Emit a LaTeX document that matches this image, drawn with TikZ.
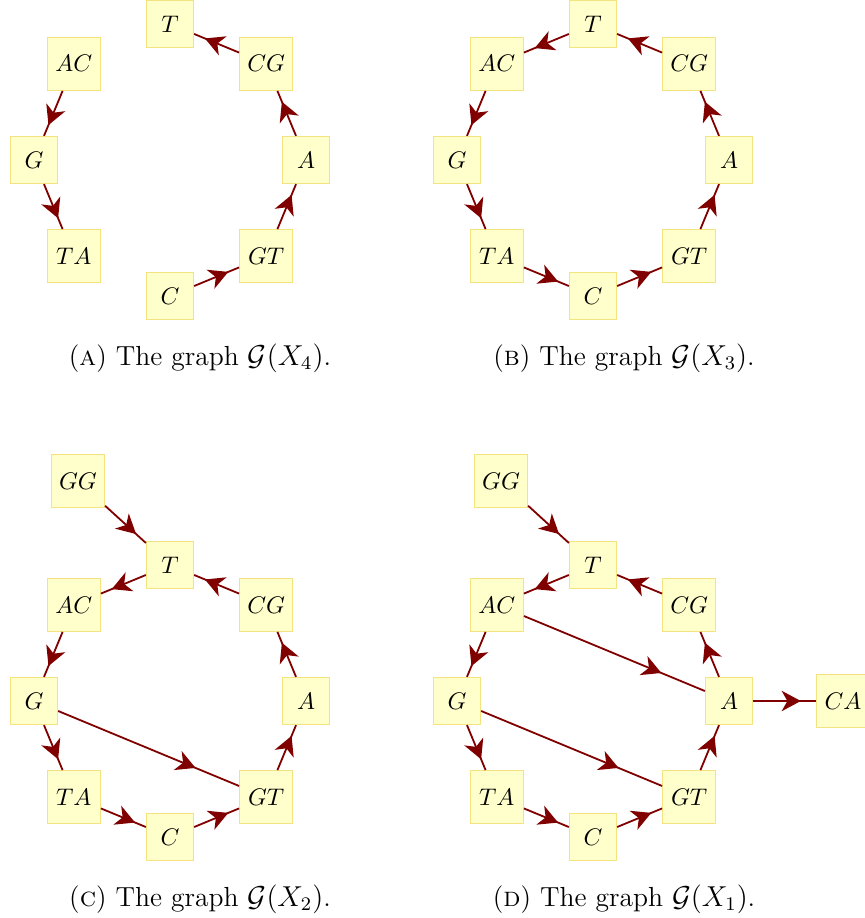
\documentclass[tikz,border=0pt]{standalone}
\usetikzlibrary{arrows.meta,decorations.markings}
\definecolor{edgec}{RGB}{128,0,0}
\definecolor{nfill}{RGB}{255,255,204}
\definecolor{ndraw}{RGB}{245,226,128}
\tikzset{
  vtx/.style={draw=ndraw, fill=nfill, line width=0.5pt, minimum size=19.6pt, inner sep=0pt},
  vtxw/.style={vtx, minimum size=22.1pt},
  edg/.style={draw=edgec, line width=0.75pt, postaction={decorate},
    decoration={markings, mark=at position 0.76 with {\arrow{Stealth[length=8pt,width=8.5pt,inset=2.4pt]}}}},
  capt/.style={inner sep=0pt, font=\fontsize{11.5pt}{14pt}\selectfont}
}
\newcommand\octo[3]{%
  \node[vtx]  (#1T)  at (#2, #3-136) {$T$};
  \node[vtxw] (#1AC) at (#2-96.2, #3-96.2) {$AC$};
  \node[vtx]  (#1G)  at (#2-136, #3) {$G$};
  \node[vtxw] (#1TA) at (#2-96.2, #3+96.2) {$TA$};
  \node[vtx]  (#1C)  at (#2, #3+136) {$C$};
  \node[vtxw] (#1GT) at (#2+96.2, #3+96.2) {$GT$};
  \node[vtx]  (#1A)  at (#2+136, #3) {$A$};
  \node[vtxw] (#1CG) at (#2+96.2, #3-96.2) {$CG$};
}
\begin{document}
\begin{tikzpicture}[x=0.4167pt, y=-0.4167pt]
\useasboundingbox (0,0) rectangle (864,918);
% panel a
\octo{a}{170}{160}
\draw[edg] (aAC) -- (aG);
\draw[edg] (aG) -- (aTA);
\draw[edg] (aC) -- (aGT);
\draw[edg] (aGT) -- (aA);
\draw[edg] (aA) -- (aCG);
\draw[edg] (aCG) -- (aT);
\node[capt] (capa) at (200,358) {(\textsc{a}) The graph $\mathcal{G}(X_4)$.};
% panel b
\octo{b}{593}{160}
\draw[edg] (bT) -- (bAC);
\draw[edg] (bAC) -- (bG);
\draw[edg] (bG) -- (bTA);
\draw[edg] (bTA) -- (bC);
\draw[edg] (bC) -- (bGT);
\draw[edg] (bGT) -- (bA);
\draw[edg] (bA) -- (bCG);
\draw[edg] (bCG) -- (bT);
\node[capt] (capb) at (624,358) {(\textsc{b}) The graph $\mathcal{G}(X_3)$.};
% panel c
\octo{c}{170}{701}
\node[vtxw] (cGG) at (78,481) {$GG$};
\draw[edg] (cGG) -- (cT);
\draw[edg] (cT) -- (cAC);
\draw[edg] (cAC) -- (cG);
\draw[edg] (cG) -- (cTA);
\draw[edg] (cTA) -- (cC);
\draw[edg] (cC) -- (cGT);
\draw[edg] (cGT) -- (cA);
\draw[edg] (cA) -- (cCG);
\draw[edg] (cCG) -- (cT);
\draw[edg] (cG) -- (cGT);
\node[capt] (capc) at (200,899) {(\textsc{c}) The graph $\mathcal{G}(X_2)$.};
% panel d
\octo{d}{593}{701}
\node[vtxw] (dGG) at (501,481) {$GG$};
\node[vtxw] (dCA) at (843,701) {$CA$};
\draw[edg] (dGG) -- (dT);
\draw[edg] (dT) -- (dAC);
\draw[edg] (dAC) -- (dG);
\draw[edg] (dG) -- (dTA);
\draw[edg] (dTA) -- (dC);
\draw[edg] (dC) -- (dGT);
\draw[edg] (dGT) -- (dA);
\draw[edg] (dA) -- (dCG);
\draw[edg] (dCG) -- (dT);
\draw[edg] (dG) -- (dGT);
\draw[edg] (dAC) -- (dA);
\draw[edg] (dA) -- (dCA);
\node[capt] (capd) at (624,899) {(\textsc{d}) The graph $\mathcal{G}(X_1)$.};
\end{tikzpicture}
\end{document}
